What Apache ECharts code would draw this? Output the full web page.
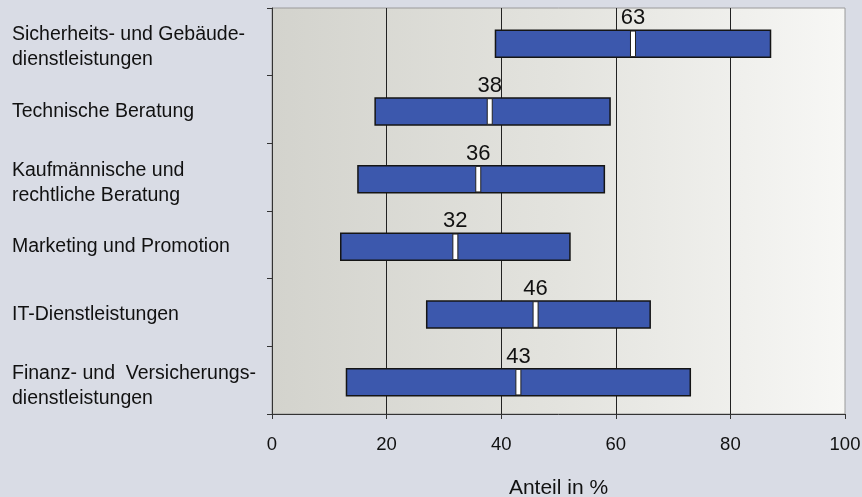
<!DOCTYPE html>
<html>
<head>
<meta charset="utf-8">
<script src="https://cdn.jsdelivr.net/npm/echarts@6/dist/echarts.min.js"></script>
<style>
  html, body { margin: 0; padding: 0; background: #d9dce5; }
  #chart { width: 862px; height: 497px; }
</style>
</head>
<body>
<div id="chart"></div>
<script>
// Kategorien von oben nach unten
const categories = [
  "Sicherheits- und Gebäude-\ndienstleistungen",
  "Technische Beratung",
  "Kaufmännische und\nrechtliche Beratung",
  "Marketing und Promotion",
  "IT-Dienstleistungen",
  "Finanz- und  Versicherungs-\ndienstleistungen"
];
const lowValues = [39, 18, 15, 12, 27, 13];
const highValues = [87, 59, 58, 52, 66, 73];
const medianValues = [63, 38, 36, 32, 46, 43];
const xTicks = [0, 20, 40, 60, 80, 100];

const font = "Liberation Sans, Arial, sans-serif";

const chart = echarts.init(document.getElementById("chart"));

const rangeData = categories.map((c, i) => [i, lowValues[i], highValues[i], medianValues[i]]);

const labelStyle = { color: "#111", fontSize: 19.5, fontFamily: font, lineHeight: 26 };

chart.setOption({
  backgroundColor: "#d9dce5",
  animation: false,
  grid: {
    left: 272,
    right: 17,
    top: 8,
    bottom: 83,
    containLabel: false,
    outerBoundsMode: "none",
    show: true,
    borderColor: "#9a9a9a",
    borderWidth: 1,
    backgroundColor: new echarts.graphic.LinearGradient(0, 0, 1, 0, [
      { offset: 0, color: "#d3d3cd" },
      { offset: 0.5, color: "#e3e3de" },
      { offset: 1, color: "#f7f7f5" }
    ])
  },
  xAxis: {
    type: "value",
    min: xTicks[0],
    max: xTicks[xTicks.length - 1],
    interval: 20,
    name: "Anteil in %",
    nameLocation: "middle",
    nameGap: 64,
    nameTextStyle: { color: "#111", fontSize: 21, fontFamily: font },
    axisLine: { show: true, lineStyle: { color: "#333", width: 1 } },
    axisTick: { show: true, length: 5, lineStyle: { color: "#333" } },
    axisLabel: { color: "#111", fontSize: 18.5, fontFamily: font, margin: 21 },
    splitLine: {
      show: true,
      showMinLine: false,
      showMaxLine: false,
      lineStyle: { color: "#222", width: 1 }
    }
  },
  yAxis: {
    type: "category",
    data: categories,
    inverse: true,
    axisLine: { show: true, lineStyle: { color: "#333", width: 1 } },
    axisTick: { show: true, length: 5, lineStyle: { color: "#333" } },
    axisLabel: {
      color: "#111",
      fontSize: 19.5,
      fontFamily: font,
      align: "left",
      margin: 260,
      lineHeight: 26,
      padding: [4, 0, 0, 0],
      // zweizeilige Beschriftungen etwas tiefer setzen
      formatter: function (v) {
        const lines = v.split("\n");
        if (lines.length === 1) return "{g|" + v + "}";
        return "{f|" + lines[0] + "}\n{h|" + lines[1] + "}";
      },
      rich: {
        f: Object.assign({ padding: [8, 0, 0, 0] }, labelStyle),
        h: Object.assign({ padding: [6, 0, 0, 0] }, labelStyle),
        g: labelStyle
      }
    },
    splitLine: { show: false }
  },
  series: [
    {
      type: "custom",
      data: rangeData,
      encode: { y: 0, x: [1, 2, 3] },
      renderItem: function (params, api) {
        const cat = api.value(0);
        const start = api.coord([api.value(1), cat]);
        const end = api.coord([api.value(2), cat]);
        const mid = api.coord([api.value(3), cat]);
        const bandH = api.size([0, 1])[1];
        const h = bandH * 0.4;
        const top = start[1] - h / 2 + 2;
        return {
          type: "group",
          children: [
            {
              type: "rect",
              shape: { x: start[0], y: top, width: end[0] - start[0], height: h },
              style: { fill: "#3c58ad", stroke: "#151515", lineWidth: 1.5 }
            },
            {
              type: "rect",
              shape: { x: mid[0] - 2.5, y: top + 0.75, width: 5, height: h - 1.5 },
              style: { fill: "#ffffff", stroke: "#222", lineWidth: 1 }
            },
            {
              type: "text",
              style: {
                text: String(api.value(3)),
                x: mid[0],
                y: top - 12,
                align: "center",
                verticalAlign: "middle",
                fill: "#111",
                font: "22px " + font
              }
            }
          ]
        };
      }
    }
  ]
});
</script>
</body>
</html>
